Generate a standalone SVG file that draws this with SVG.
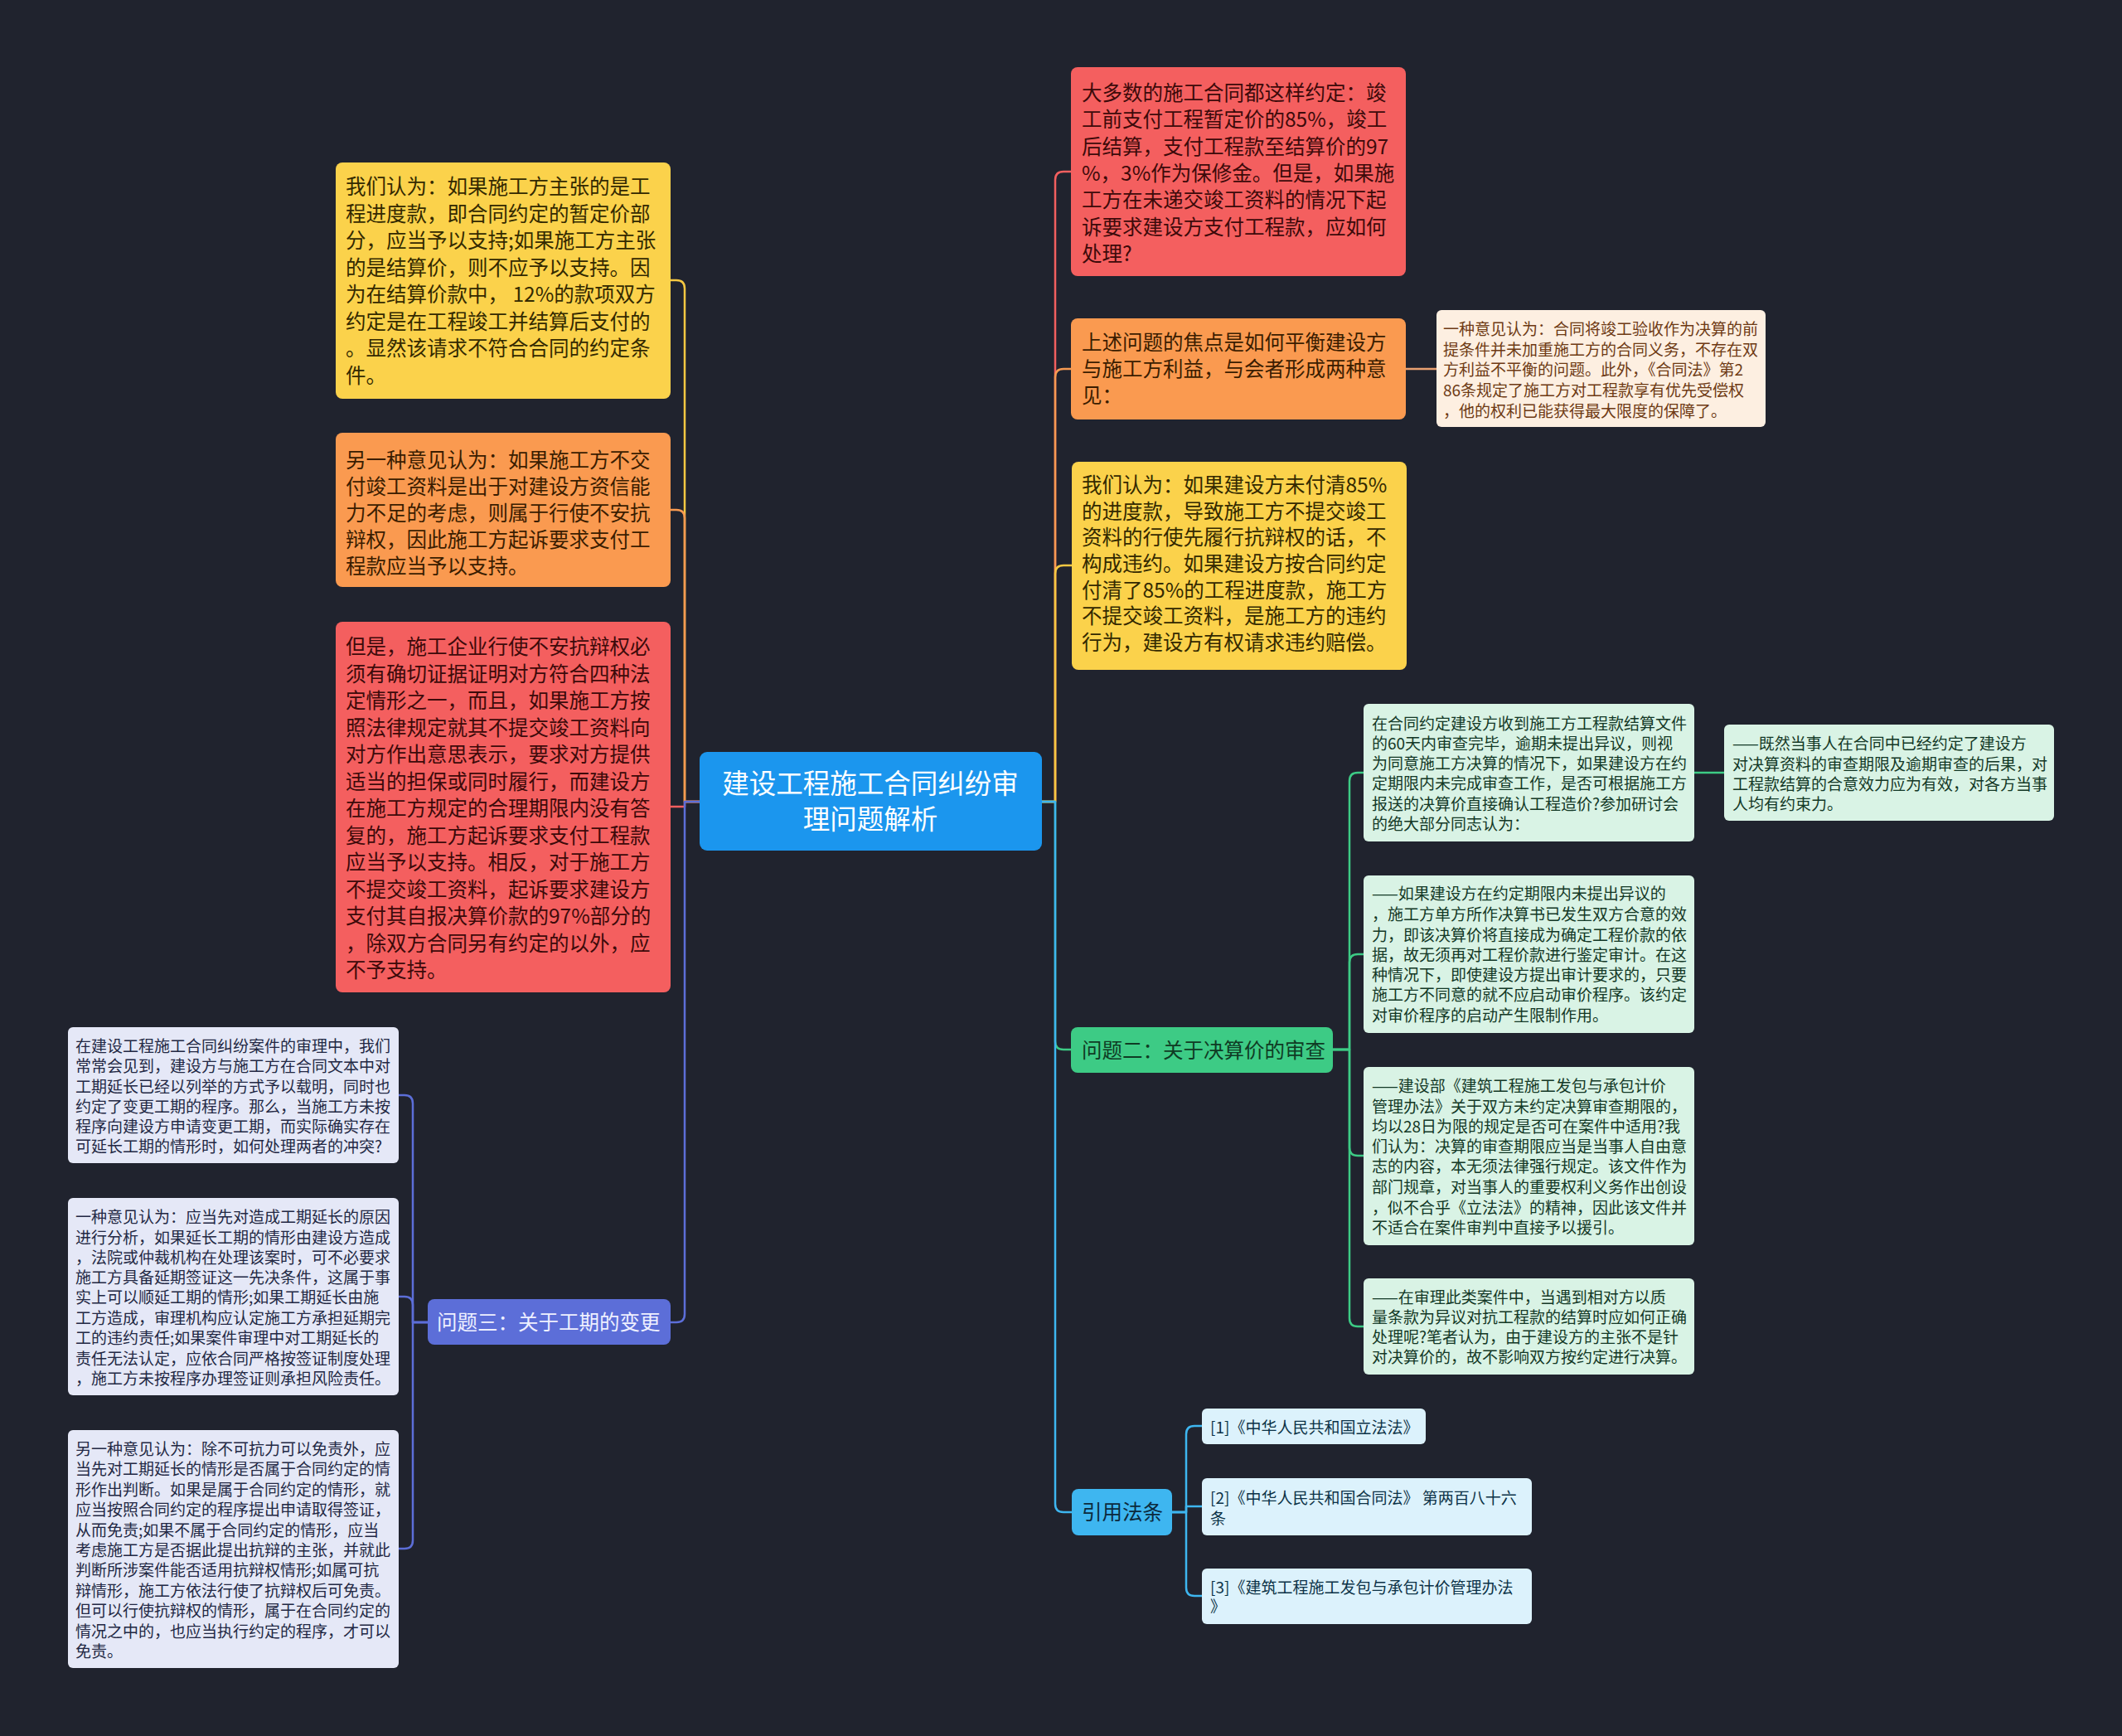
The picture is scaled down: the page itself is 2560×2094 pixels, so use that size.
<svg xmlns="http://www.w3.org/2000/svg" width="2560" height="2094" viewBox="0 0 2560 2094">
<style>
text{font-family:"Noto Sans CJK SC","Noto Sans",sans-serif}
.f24{font-size:24.5px}
.f19{font-size:19px}
.f32{font-size:32.5px}
.c{fill:none;stroke-width:2.5;stroke-linejoin:round}
</style>
<rect width="2560" height="2094" fill="#20232e"/>
<g id="connectors">
<path class="c" stroke="#f5c842" d="M844 967 H826 V348 Q826 338 816 338 H809"/>
<path class="c" stroke="#f79a52" d="M844 967 H826 V625 Q826 615 816 615 H809"/>
<path class="c" stroke="#f25f5f" d="M844 967 H826 V973 H809"/>
<path class="c" stroke="#5c6ed8" d="M844 967 H826 V1585 Q826 1595 816 1595 H809"/>
<path class="c" stroke="#5c6ed8" d="M516 1595 H498 V1331 Q498 1321 488 1321 H481"/>
<path class="c" stroke="#5c6ed8" d="M516 1595 H498 V1574 Q498 1564 488 1564 H481"/>
<path class="c" stroke="#5c6ed8" d="M516 1595 H498 V1858 Q498 1868 488 1868 H481"/>
<path class="c" stroke="#f25f5f" d="M1257 967 H1273 V217 Q1273 207 1283 207 H1292"/>
<path class="c" stroke="#f79a52" d="M1257 967 H1273 V455 Q1273 445 1283 445 H1292"/>
<path class="c" stroke="#f5c842" d="M1257 967 H1273 V692 Q1273 682 1283 682 H1293"/>
<path class="c" stroke="#3dcb85" d="M1257 967 H1273 V1256 Q1273 1266 1283 1266 H1292"/>
<path class="c" stroke="#3eb6f0" d="M1257 967 H1273 V1814 Q1273 1824 1283 1824 H1293"/>
<path class="c" stroke="#e9a070" d="M1696 445 H1733"/>
<path class="c" stroke="#3dcb85" d="M1608 1266 H1628 V942 Q1628 932 1638 932 H1645"/>
<path class="c" stroke="#3dcb85" d="M1608 1266 H1628 V1161 Q1628 1151 1638 1151 H1645"/>
<path class="c" stroke="#3dcb85" d="M1608 1266 H1628 V1384 Q1628 1394 1638 1394 H1645"/>
<path class="c" stroke="#3dcb85" d="M1608 1266 H1628 V1590 Q1628 1600 1638 1600 H1645"/>
<path class="c" stroke="#3dcb85" d="M2044 932 H2080"/>
<path class="c" stroke="#3eb6f0" d="M1414 1824 H1431 V1730 Q1431 1720 1441 1720 H1450"/>
<path class="c" stroke="#3eb6f0" d="M1414 1824 H1431 V1817 H1450"/>
<path class="c" stroke="#3eb6f0" d="M1414 1824 H1431 V1915 Q1431 1925 1441 1925 H1450"/>
</g>
<g id="root">
<rect x="844" y="907" width="413" height="119" rx="9" fill="#1b96ee"/>
<text class="f32" fill="#ffffff" text-anchor="middle"><tspan x="1050" y="957">建设工程施工合同纠纷审</tspan><tspan x="1050" y="1000">理问题解析</tspan></text>
</g>
<g id="left-yellow">
<rect x="405" y="196" width="404" height="285" rx="8" fill="#fbd24b"/>
<text class="f24" fill="#332900"><tspan x="417" y="234">我们认为：如果施工方主张的是工</tspan><tspan x="417" y="267">程进度款，即合同约定的暂定价部</tspan><tspan x="417" y="299">分，应当予以支持;如果施工方主张</tspan><tspan x="417" y="332">的是结算价，则不应予以支持。因</tspan><tspan x="417" y="364">为在结算价款中， 12%的款项双方</tspan><tspan x="417" y="397">约定是在工程竣工并结算后支付的</tspan><tspan x="417" y="429">。显然该请求不符合合同的约定条</tspan><tspan x="417" y="462">件。</tspan></text>
</g>
<g id="left-orange">
<rect x="405" y="522" width="404" height="186" rx="8" fill="#fa9a50"/>
<text class="f24" fill="#3a1d00"><tspan x="417" y="564">另一种意见认为：如果施工方不交</tspan><tspan x="417" y="596">付竣工资料是出于对建设方资信能</tspan><tspan x="417" y="628">力不足的考虑，则属于行使不安抗</tspan><tspan x="417" y="660">辩权，因此施工方起诉要求支付工</tspan><tspan x="417" y="692">程款应当予以支持。</tspan></text>
</g>
<g id="left-red">
<rect x="405" y="750" width="404" height="447" rx="8" fill="#f45f5f"/>
<text class="f24" fill="#3d0a0a"><tspan x="417" y="789">但是，施工企业行使不安抗辩权必</tspan><tspan x="417" y="822">须有确切证据证明对方符合四种法</tspan><tspan x="417" y="854">定情形之一，而且，如果施工方按</tspan><tspan x="417" y="887">照法律规定就其不提交竣工资料向</tspan><tspan x="417" y="919">对方作出意思表示，要求对方提供</tspan><tspan x="417" y="952">适当的担保或同时履行，而建设方</tspan><tspan x="417" y="984">在施工方规定的合理期限内没有答</tspan><tspan x="417" y="1017">复的，施工方起诉要求支付工程款</tspan><tspan x="417" y="1049">应当予以支持。相反，对于施工方</tspan><tspan x="417" y="1082">不提交竣工资料，起诉要求建设方</tspan><tspan x="417" y="1114">支付其自报决算价款的97%部分的</tspan><tspan x="417" y="1147">，除双方合同另有约定的以外，应</tspan><tspan x="417" y="1179">不予支持。</tspan></text>
</g>
<g id="problem3">
<rect x="516" y="1567" width="293" height="55" rx="8" fill="#5c6ed8"/>
<text class="f24" fill="#eef0ff"><tspan x="527" y="1604">问题三：关于工期的变更</tspan></text>
</g>
<g id="p3-a">
<rect x="82" y="1239" width="399" height="164" rx="6" fill="#e5e8f7"/>
<text class="f19" fill="#232844"><tspan x="91" y="1269">在建设工程施工合同纠纷案件的审理中，我们</tspan><tspan x="91" y="1293">常常会见到，建设方与施工方在合同文本中对</tspan><tspan x="91" y="1318">工期延长已经以列举的方式予以载明，同时也</tspan><tspan x="91" y="1342">约定了变更工期的程序。那么，当施工方未按</tspan><tspan x="91" y="1366">程序向建设方申请变更工期，而实际确实存在</tspan><tspan x="91" y="1390">可延长工期的情形时，如何处理两者的冲突?</tspan></text>
</g>
<g id="p3-b">
<rect x="82" y="1445" width="399" height="238" rx="6" fill="#e5e8f7"/>
<text class="f19" fill="#232844"><tspan x="91" y="1475">一种意见认为：应当先对造成工期延长的原因</tspan><tspan x="91" y="1500">进行分析，如果延长工期的情形由建设方造成</tspan><tspan x="91" y="1524">，法院或仲裁机构在处理该案时，可不必要求</tspan><tspan x="91" y="1548">施工方具备延期签证这一先决条件，这属于事</tspan><tspan x="91" y="1572">实上可以顺延工期的情形;如果工期延长由施</tspan><tspan x="91" y="1597">工方造成，审理机构应认定施工方承担延期完</tspan><tspan x="91" y="1621">工的违约责任;如果案件审理中对工期延长的</tspan><tspan x="91" y="1646">责任无法认定，应依合同严格按签证制度处理</tspan><tspan x="91" y="1670">，施工方未按程序办理签证则承担风险责任。</tspan></text>
</g>
<g id="p3-c">
<rect x="82" y="1725" width="399" height="287" rx="6" fill="#e5e8f7"/>
<text class="f19" fill="#232844"><tspan x="91" y="1755">另一种意见认为：除不可抗力可以免责外，应</tspan><tspan x="91" y="1779">当先对工期延长的情形是否属于合同约定的情</tspan><tspan x="91" y="1804">形作出判断。如果是属于合同约定的情形，就</tspan><tspan x="91" y="1828">应当按照合同约定的程序提出申请取得签证，</tspan><tspan x="91" y="1853">从而免责;如果不属于合同约定的情形，应当</tspan><tspan x="91" y="1877">考虑施工方是否据此提出抗辩的主张，并就此</tspan><tspan x="91" y="1901">判断所涉案件能否适用抗辩权情形;如属可抗</tspan><tspan x="91" y="1926">辩情形，施工方依法行使了抗辩权后可免责。</tspan><tspan x="91" y="1950">但可以行使抗辩权的情形，属于在合同约定的</tspan><tspan x="91" y="1975">情况之中的，也应当执行约定的程序，才可以</tspan><tspan x="91" y="1999">免责。</tspan></text>
</g>
<g id="right-red">
<rect x="1292" y="81" width="404" height="252" rx="8" fill="#f45f5f"/>
<text class="f24" fill="#3d0a0a"><tspan x="1305" y="121">大多数的施工合同都这样约定：竣</tspan><tspan x="1305" y="153">工前支付工程暂定价的85%，竣工</tspan><tspan x="1305" y="186">后结算，支付工程款至结算价的97</tspan><tspan x="1305" y="218">%，3%作为保修金。但是，如果施</tspan><tspan x="1305" y="250">工方在未递交竣工资料的情况下起</tspan><tspan x="1305" y="283">诉要求建设方支付工程款，应如何</tspan><tspan x="1305" y="315">处理?</tspan></text>
</g>
<g id="right-orange">
<rect x="1292" y="384" width="404" height="122" rx="8" fill="#fa9a50"/>
<text class="f24" fill="#3a1d00"><tspan x="1305" y="422">上述问题的焦点是如何平衡建设方</tspan><tspan x="1305" y="454">与施工方利益，与会者形成两种意</tspan><tspan x="1305" y="486">见：</tspan></text>
</g>
<g id="note">
<rect x="1733" y="374" width="397" height="141" rx="6" fill="#fdefe1"/>
<text class="f19" fill="#6e3a14"><tspan x="1741" y="404">一种意见认为：合同将竣工验收作为决算的前</tspan><tspan x="1741" y="429">提条件并未加重施工方的合同义务，不存在双</tspan><tspan x="1741" y="453">方利益不平衡的问题。此外，《合同法》第2</tspan><tspan x="1741" y="478">86条规定了施工方对工程款享有优先受偿权</tspan><tspan x="1741" y="503">，他的权利已能获得最大限度的保障了。</tspan></text>
</g>
<g id="right-yellow">
<rect x="1293" y="557" width="404" height="251" rx="8" fill="#fbd24b"/>
<text class="f24" fill="#332900"><tspan x="1305" y="594">我们认为：如果建设方未付清85%</tspan><tspan x="1305" y="626">的进度款，导致施工方不提交竣工</tspan><tspan x="1305" y="657">资料的行使先履行抗辩权的话，不</tspan><tspan x="1305" y="689">构成违约。如果建设方按合同约定</tspan><tspan x="1305" y="721">付清了85%的工程进度款，施工方</tspan><tspan x="1305" y="752">不提交竣工资料，是施工方的违约</tspan><tspan x="1305" y="784">行为，建设方有权请求违约赔偿。</tspan></text>
</g>
<g id="problem2">
<rect x="1292" y="1239" width="316" height="55" rx="8" fill="#3dcb85"/>
<text class="f24" fill="#0f3b24"><tspan x="1305" y="1276">问题二：关于决算价的审查</tspan></text>
</g>
<g id="p2-a">
<rect x="1645" y="849" width="399" height="166" rx="6" fill="#d9f3e5"/>
<text class="f19" fill="#133826"><tspan x="1655" y="880">在合同约定建设方收到施工方工程款结算文件</tspan><tspan x="1655" y="904">的60天内审查完毕，逾期未提出异议，则视</tspan><tspan x="1655" y="928">为同意施工方决算的情况下，如果建设方在约</tspan><tspan x="1655" y="952">定期限内未完成审查工作，是否可根据施工方</tspan><tspan x="1655" y="977">报送的决算价直接确认工程造价?参加研讨会</tspan><tspan x="1655" y="1001">的绝大部分同志认为：</tspan></text>
</g>
<g id="p2-a1">
<rect x="2080" y="874" width="398" height="116" rx="6" fill="#d9f3e5"/>
<text class="f19" fill="#133826"><tspan x="2090" y="904">——既然当事人在合同中已经约定了建设方</tspan><tspan x="2090" y="929">对决算资料的审查期限及逾期审查的后果，对</tspan><tspan x="2090" y="953">工程款结算的合意效力应为有效，对各方当事</tspan><tspan x="2090" y="977">人均有约束力。</tspan></text>
</g>
<g id="p2-b">
<rect x="1645" y="1056" width="399" height="190" rx="6" fill="#d9f3e5"/>
<text class="f19" fill="#133826"><tspan x="1655" y="1085">——如果建设方在约定期限内未提出异议的</tspan><tspan x="1655" y="1110">，施工方单方所作决算书已发生双方合意的效</tspan><tspan x="1655" y="1135">力，即该决算价将直接成为确定工程价款的依</tspan><tspan x="1655" y="1159">据，故无须再对工程价款进行鉴定审计。在这</tspan><tspan x="1655" y="1183">种情况下，即使建设方提出审计要求的，只要</tspan><tspan x="1655" y="1207">施工方不同意的就不应启动审价程序。该约定</tspan><tspan x="1655" y="1232">对审价程序的启动产生限制作用。</tspan></text>
</g>
<g id="p2-c">
<rect x="1645" y="1287" width="399" height="215" rx="6" fill="#d9f3e5"/>
<text class="f19" fill="#133826"><tspan x="1655" y="1317">——建设部《建筑工程施工发包与承包计价</tspan><tspan x="1655" y="1342">管理办法》关于双方未约定决算审查期限的，</tspan><tspan x="1655" y="1366">均以28日为限的规定是否可在案件中适用?我</tspan><tspan x="1655" y="1390">们认为：决算的审查期限应当是当事人自由意</tspan><tspan x="1655" y="1414">志的内容，本无须法律强行规定。该文件作为</tspan><tspan x="1655" y="1439">部门规章，对当事人的重要权利义务作出创设</tspan><tspan x="1655" y="1464">，似不合乎《立法法》的精神，因此该文件并</tspan><tspan x="1655" y="1488">不适合在案件审判中直接予以援引。</tspan></text>
</g>
<g id="p2-d">
<rect x="1645" y="1542" width="399" height="116" rx="6" fill="#d9f3e5"/>
<text class="f19" fill="#133826"><tspan x="1655" y="1572">——在审理此类案件中，当遇到相对方以质</tspan><tspan x="1655" y="1596">量条款为异议对抗工程款的结算时应如何正确</tspan><tspan x="1655" y="1620">处理呢?笔者认为，由于建设方的主张不是针</tspan><tspan x="1655" y="1644">对决算价的，故不影响双方按约定进行决算。</tspan></text>
</g>
<g id="laws">
<rect x="1293" y="1796" width="121" height="56" rx="8" fill="#3eb6f0"/>
<text class="f24" fill="#0c2a3d"><tspan x="1305" y="1833">引用法条</tspan></text>
</g>
<g id="law-1">
<rect x="1450" y="1699" width="270" height="43" rx="6" fill="#dcf2fc"/>
<text class="f19" fill="#0c3247"><tspan x="1460" y="1729">[1]《中华人民共和国立法法》</tspan></text>
</g>
<g id="law-2">
<rect x="1450" y="1783" width="398" height="69" rx="6" fill="#dcf2fc"/>
<text class="f19" fill="#0c3247"><tspan x="1460" y="1814">[2]《中华人民共和国合同法》 第两百八十六</tspan><tspan x="1460" y="1839">条</tspan></text>
</g>
<g id="law-3">
<rect x="1450" y="1892" width="398" height="67" rx="6" fill="#dcf2fc"/>
<text class="f19" fill="#0c3247"><tspan x="1460" y="1922">[3]《建筑工程施工发包与承包计价管理办法</tspan><tspan x="1460" y="1945">》</tspan></text>
</g>
</svg>
